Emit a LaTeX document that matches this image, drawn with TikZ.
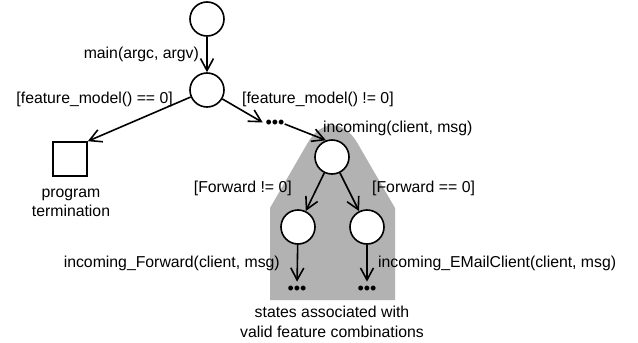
\documentclass[tikz,border=0pt]{standalone}
\usepackage{fontspec}
\setmainfont{Liberation Sans}
\usetikzlibrary{arrows.meta}
\tikzset{
	state/.style={circle,draw,line width=1.6pt,fill=white,minimum size=34pt,inner sep=0pt},
	stop/.style={rectangle,draw,line width=1.6pt,minimum size=34pt,inner sep=0pt},
	more/.style={inner sep=0pt,font=\fontsize{18}{19.5}\selectfont},
	lbl/.style={inner sep=0pt},
	trans/.style={line width=1.6pt,-{Straight Barb[length=12pt,width=13pt,line width=1.6pt]}}
}
\begin{document}
\begin{tikzpicture}[x=1pt,y=-1pt,font=\fontsize{15.8}{19.5}\selectfont]
	\useasboundingbox (0,0) rectangle (638,343);
	\fill[black!30] (270,300) -- (270,208) [rounded corners=50pt] -- (332.5,100) [sharp corners] -- (395,208) -- (395,300) -- cycle;
	\node[state] (init) at (207,19) {};
	\node[state] (main) at (207,90) {};
	\node[stop] (term) at (70,159) {};
	\node[more] (skip) at (275,124) {•••};
	\node[state] (inc) at (332,157) {};
	\node[state] (fwd) at (298,227) {};
	\node[state] (mail) at (367,227) {};
	\node[more] (fwdnext) at (297,290) {•••};
	\node[more] (mailnext) at (367,290) {•••};
	\node[lbl,anchor=east] (lmain) at (199,54) {main(argc, argv)};
	\node[lbl,anchor=east] (lfmoff) at (173,99) {[feature\_model() == 0]};
	\node[lbl,anchor=west] (lfmon) at (242,99) {[feature\_model() != 0]};
	\node[lbl,anchor=west] (linc) at (323,128) {incoming(client, msg)};
	\node[lbl,anchor=east] (lfwdon) at (292,188) {[Forward != 0]};
	\node[lbl,anchor=west] (lfwdoff) at (372,188) {[Forward == 0]};
	\node[lbl,anchor=east] (lfwd) at (280,263) {incoming\_Forward(client, msg)};
	\node[lbl,anchor=west] (lmail) at (378,263) {incoming\_EMailClient(client, msg)};
	\node[lbl,align=center] (lterm) at (71,203) {program\\termination};
	\node[lbl,align=center] (lvalid) at (332,322) {states associated with\\valid feature combinations};
	\draw[trans] (init) -- (main);
	\draw[trans] (main) -- (term.north east);
	\draw[trans,shorten >=3pt] (main) -- (skip.west);
	\draw[trans] (skip.east) -- (inc.110);
	\draw[trans] (inc) -- (fwd);
	\draw[trans] (inc) -- (mail);
	\draw[trans,shorten >=4pt] (fwd) -- (fwdnext.north);
	\draw[trans,shorten >=4pt] (mail) -- (mailnext.north);
\end{tikzpicture}
\end{document}
